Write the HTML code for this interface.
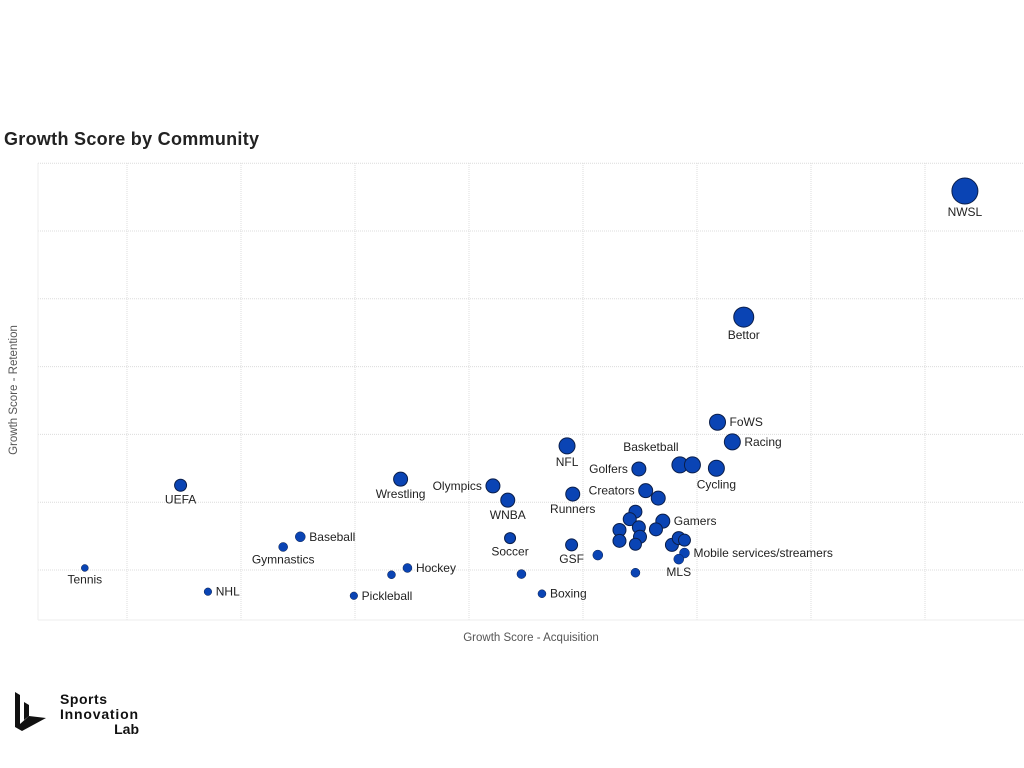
<!DOCTYPE html>
<html><head><meta charset="utf-8"><style>
body{margin:0;background:#fff;width:1024px;height:768px;overflow:hidden;font-family:"Liberation Sans",sans-serif}
</style></head><body>
<svg width="1024" height="768" id="svg" style="position:absolute;left:0;top:0">
<text x="4" y="145" font-size="18" font-weight="bold" fill="#222" textLength="255">Growth Score by Community</text>
<g id="grid"></g>
<text x="531" y="641" font-size="11.5" fill="#555" text-anchor="middle">Growth Score - Acquisition</text>
<text transform="translate(17,390) rotate(-90)" font-size="11.5" fill="#555" text-anchor="middle">Growth Score - Retention</text>
<g id="pts"></g>
<g>
<path d="M15 692 L20 695 L20 724 L29 716 L46 718 L22 731 L15 727 Z" fill="#111"/>
<path d="M24 702 L29 705 L29 716 L24 720 Z" fill="#111"/>
<text x="60" y="704" font-size="14" font-weight="bold" fill="#111" textLength="47">Sports</text>
<text x="60" y="719" font-size="14" font-weight="bold" fill="#111" textLength="78">Innovation</text>
<text x="139" y="734" font-size="14" font-weight="bold" fill="#111" text-anchor="end">Lab</text>
</g>
</svg>
<script>
const names=["NWSL","Bettor","FoWS","Racing","NFL","Basketball","","Cycling","Golfers","Creators","Runners","Wrestling","Olympics","WNBA","UEFA","","Gamers","","","","","","","","","","","","Mobile services/streamers","MLS","","","GSF","Soccer","","Boxing","Hockey","","Pickleball","NHL","Baseball","Gymnastics","Tennis"];
const acq=[83.5,64.1,61.8,63.1,48.6,58.5,59.6,61.7,54.9,55.5,49.1,34.0,42.1,43.4,14.7,56.6,57.0,54.6,54.1,54.9,53.2,53.2,55.0,54.6,56.4,57.8,58.4,58.9,58.9,58.4,54.6,51.3,49.0,43.6,44.6,46.4,34.6,33.2,29.9,17.1,25.2,23.7,6.3];
const ret=[55.9,37.3,21.8,18.9,18.3,15.5,15.5,15.0,14.9,11.7,11.2,13.4,12.4,10.3,12.5,10.6,7.2,8.6,7.5,6.3,5.9,4.3,4.9,3.8,6.0,3.7,4.7,4.4,2.5,1.6,-0.4,2.2,3.7,4.7,-0.6,-3.5,0.3,-0.7,-3.8,-3.2,4.9,3.4,0.3];
const size=[13,10,8,8,8,8,8,8,7,7,7,7,7,7,6,7,7,6.5,6.5,6.5,6.5,6.5,6.5,6,6.5,6.5,6.5,6,5,5,4.5,5,6,5.5,4.5,4,4.5,4,3.8,3.8,5,4.5,3.5];
const pos=["b","b","r","r","b","t","","b","l","l","b","b","l","b","b","","r","","","","","","","","","","","","r","b","","","b","b","","r","r","","r","r","r","b","b"];
const xTicks=[10,20,30,40,50,60,70,80];
const yTicks=[0,10,20,30,40,50,60];
const X=v=>13+v*11.4, Y=v=>570-v*6.78;
const NS="http://www.w3.org/2000/svg";
const g=document.getElementById('grid'), p=document.getElementById('pts');
function mk(t,a,par){const e=document.createElementNS(NS,t);for(const k in a)e.setAttribute(k,a[k]);par.appendChild(e);return e;}
xTicks.forEach(t=>{const l=mk('line',{x1:X(t),x2:X(t),y1:163,y2:620,stroke:'#dcdcdc','stroke-dasharray':'1 1'},g);

});
yTicks.forEach(t=>{const l=mk('line',{x1:38,x2:1024,y1:Y(t),y2:Y(t),stroke:'#dcdcdc','stroke-dasharray':'1 1'},g);

});
mk('line',{x1:38,x2:38,y1:163,y2:620,stroke:'#eee'},g);
mk('line',{x1:38,x2:1024,y1:620,y2:620,stroke:'#eee'},g);
acq.forEach((a,i)=>{const cx=X(a),cy=Y(ret[i]),r=size[i];
const c=mk('circle',{cx:cx,cy:cy,r:r,fill:'#0a44b4',stroke:'#0a1e4a','stroke-width':r>5?1:0.5},p);


if(names[i]){let x=cx,y=cy,anc='middle';
if(pos[i]=='b'){y=cy+r+12;}else if(pos[i]=='t'){y=cy-r-6;x=cx-29;}else if(pos[i]=='r'){x=cx+r+4;y=cy+4;anc='start';}else{x=cx-r-4;y=cy+4;anc='end';}
const t=mk('text',{x:x,y:y,'font-size':12,fill:'#222','text-anchor':anc},p);t.textContent=names[i];

}
});
</script>
</body></html>
